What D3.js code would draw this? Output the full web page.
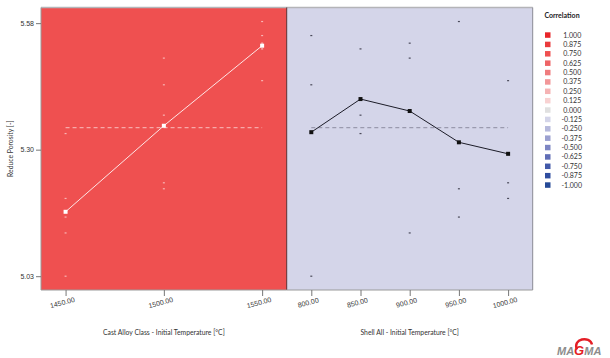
<!DOCTYPE html>
<html>
<head>
<meta charset="utf-8">
<script src="https://cdn.jsdelivr.net/npm/d3@7"></script>
<style>
  html, body { margin: 0; padding: 0; background: #fff; }
  svg { display: block; font-family: Lato, "Liberation Sans", sans-serif; }
</style>
</head>
<body>
<svg id="chart" width="610" height="358"></svg>
<script>
// Factor levels
const alloyLevels = [1450, 1500, 1550];
const shellLevels = [800, 850, 900, 950, 1000];

// Individual design runs: alloy temperature, shell temperature, porosity result
const runAlloy = [1550, 1550, 1550, 1550, 1550, 1500, 1500, 1500, 1500, 1500, 1450, 1450, 1450, 1450, 1450];
const runShell = [950, 800, 900, 850, 1000, 900, 800, 850, 1000, 950, 850, 1000, 950, 900, 800];
const runPorosity = [5.5835, 5.553, 5.5365, 5.524, 5.455, 5.504, 5.446, 5.380, 5.233, 5.220, 5.340, 5.199, 5.1585, 5.124, 5.030];

// Main-effect means per level
const alloyMeans = [5.170, 5.357, 5.531];
const shellMeans = [5.343, 5.415, 5.389, 5.321, 5.296];
const overallMean = 5.353;

// Axis ticks
const yTicks = [5.03, 5.305, 5.58];
const yTickLabels = ["5.03", "5.30", "5.58"];

// Correlation colour legend
const legendValues = [1, 0.875, 0.75, 0.625, 0.5, 0.375, 0.25, 0.125, 0, -0.125, -0.25, -0.375, -0.5, -0.625, -0.75, -0.875, -1];
const legendColors = ["#e8262a", "#ea3b3d", "#ef5050", "#ee6466", "#ef7c7e", "#f29799", "#f5b3b4", "#f8d2d2", "#e0e0e0",
                      "#d4d5e9", "#b6b9dc", "#9ba0d0", "#7d85c3", "#606db6", "#4259a9", "#2f4d9f", "#264a97"];

// Correlation of each factor with the response
const factorNames = ["Cast Alloy Class - Initial Temperature [°C]", "Shell All - Initial Temperature [°C]"];
const panelCorrelation = [0.75, -0.125];

const svg = d3.select("#chart");
const plotTop = 7.5, plotBottom = 290;
const panelX = [41, 286.7, 532.7];

const corrColor = d3.scaleLinear().domain(legendValues).range(legendColors);

const y = d3.scaleLinear().domain([5.0, 5.614]).range([plotBottom, plotTop]);

const xAlloy = d3.scaleLinear().domain([1437.5, 1562.5]).range([panelX[0], panelX[1]]);
const xShell = d3.scaleLinear().domain([775, 1025]).range([panelX[1], panelX[2]]);

// Panel backgrounds coloured by correlation
svg.append("rect").attr("x", panelX[0]).attr("y", plotTop).attr("width", panelX[1] - panelX[0]).attr("height", plotBottom - plotTop)
  .attr("fill", corrColor(panelCorrelation[0]));
svg.append("rect").attr("x", panelX[1]).attr("y", plotTop).attr("width", panelX[2] - panelX[1]).attr("height", plotBottom - plotTop)
  .attr("fill", corrColor(panelCorrelation[1]));

// Frame
svg.append("line").attr("x1", panelX[0]).attr("x2", panelX[2]).attr("y1", plotTop).attr("y2", plotTop)
  .attr("stroke", "#b4b4b8").attr("stroke-width", 1.5);
svg.append("line").attr("x1", panelX[2]).attr("x2", panelX[2]).attr("y1", plotTop).attr("y2", plotBottom)
  .attr("stroke", "#8a8a96").attr("stroke-width", 1);
svg.append("line").attr("x1", panelX[1]).attr("x2", panelX[1]).attr("y1", plotTop).attr("y2", plotBottom)
  .attr("stroke", "#5e2a2c").attr("stroke-width", 1);

// Y axis
const yAxis = d3.axisLeft(y).tickValues(yTicks).tickSize(5).tickPadding(2)
  .tickFormat((d, i) => yTickLabels[i]);
const gy = svg.append("g").attr("transform", `translate(${panelX[0]},0)`).call(yAxis);
gy.select(".domain").attr("stroke", "#9a9a9a").attr("d", `M0,${plotTop}V${plotBottom}`);
gy.selectAll(".tick line").attr("stroke", "#777");
gy.selectAll("text").attr("font-size", 7).attr("fill", "#333");

svg.append("text").attr("transform", `translate(13,${(plotTop + plotBottom) / 2}) rotate(-90)`)
  .attr("text-anchor", "middle").attr("font-size", 6.8).attr("fill", "#333")
  .text("Reduce Porosity [-]");

// X axes
function xAxisFor(scale, levels, x0, x1) {
  const g = svg.append("g").attr("transform", `translate(0,${plotBottom})`)
    .call(d3.axisBottom(scale).tickValues(levels).tickSize(6).tickFormat(d3.format(".2f")));
  g.select(".domain").attr("stroke", "#9a9a9a").attr("d", `M${x0},0H${x1}`);
  g.selectAll(".tick line").attr("stroke", "#777");
  g.selectAll(".tick text").attr("font-size", 7).attr("fill", "#333")
    .attr("text-anchor", "middle").attr("dy", 0)
    .attr("transform", "translate(-3,15) rotate(-15)").attr("y", 0);
}
xAxisFor(xAlloy, alloyLevels, panelX[0], panelX[1]);
xAxisFor(xShell, shellLevels, panelX[1], panelX[2]);

svg.append("text").attr("x", (xAlloy(alloyLevels[0]) + xAlloy(alloyLevels[2])) / 2).attr("y", 335)
  .attr("text-anchor", "middle").attr("font-size", 6.8).attr("fill", "#333").text(factorNames[0]);
svg.append("text").attr("x", xShell(900)).attr("y", 335)
  .attr("text-anchor", "middle").attr("font-size", 6.8).attr("fill", "#333").text(factorNames[1]);

// Individual run results
const runs = runAlloy.map((a, i) => ({ alloy: a, shell: runShell[i], value: runPorosity[i] }));
svg.append("g").selectAll("rect").data(runs).join("rect")
  .attr("x", d => xAlloy(d.alloy) - 1).attr("y", d => y(d.value) - 0.6)
  .attr("width", 2).attr("height", 1.2).attr("fill", "#f8b4b4");
svg.append("g").selectAll("rect").data(runs).join("rect")
  .attr("x", d => xShell(d.shell) - 1).attr("y", d => y(d.value) - 0.6)
  .attr("width", 2).attr("height", 1.2).attr("fill", "#4a4a5a");

// Overall mean reference lines
svg.append("line").attr("x1", xAlloy(alloyLevels[0])).attr("x2", xAlloy(alloyLevels[2]))
  .attr("y1", y(overallMean)).attr("y2", y(overallMean))
  .attr("stroke", "#f7a9a9").attr("stroke-width", 1.3).attr("stroke-dasharray", "4,3");
svg.append("line").attr("x1", xShell(shellLevels[0])).attr("x2", xShell(shellLevels[4]))
  .attr("y1", y(overallMean)).attr("y2", y(overallMean))
  .attr("stroke", "#9a9aae").attr("stroke-width", 1.3).attr("stroke-dasharray", "4,3");

// Main-effect lines
const alloyLine = d3.line().x((d, i) => xAlloy(alloyLevels[i])).y(d => y(d));
svg.append("path").datum(alloyMeans).attr("d", alloyLine)
  .attr("fill", "none").attr("stroke", "#fde6e6").attr("stroke-width", 1);
svg.append("g").selectAll("rect").data(alloyMeans).join("rect")
  .attr("x", (d, i) => xAlloy(alloyLevels[i]) - 2).attr("y", d => y(d) - 2)
  .attr("width", 4).attr("height", 4).attr("fill", "#ffffff");

const shellLine = d3.line().x((d, i) => xShell(shellLevels[i])).y(d => y(d));
svg.append("path").datum(shellMeans).attr("d", shellLine)
  .attr("fill", "none").attr("stroke", "#1c1c28").attr("stroke-width", 1);
svg.append("g").selectAll("rect").data(shellMeans).join("rect")
  .attr("x", (d, i) => xShell(shellLevels[i]) - 2).attr("y", d => y(d) - 2)
  .attr("width", 4).attr("height", 4).attr("fill", "#111");

// Legend
const lg = svg.append("g");
lg.append("text").attr("x", 562).attr("y", 18).attr("text-anchor", "middle")
  .attr("font-size", 7).attr("font-weight", "bold").attr("fill", "#222").text("Correlation");
const item = lg.selectAll("g.item").data(legendValues).join("g").attr("class", "item")
  .attr("transform", (d, i) => `translate(0,${35 + i * 9.375})`);
item.append("rect").attr("x", 545).attr("y", -2.7).attr("width", 5.5).attr("height", 5.5)
  .attr("fill", d => corrColor(d));
item.append("text").attr("x", d => d < 0 ? 561.5 : 563.3).attr("y", 2.5).attr("font-size", 7).attr("fill", "#333")
  .text(d => d3.format(".3f")(d).replace("−", "-"));

// Logo
const logo = svg.append("g").attr("transform", "translate(557,354.5)");
logo.append("path").attr("d", "M20,-5 C15,-16 33,-19 35,-10")
  .attr("fill", "none").attr("stroke", "#e41e26").attr("stroke-width", 2.4);
logo.append("text").attr("font-weight", "bold").attr("font-style", "italic")
  .attr("font-family", "'Liberation Sans', Arial, sans-serif")
  .selectAll("tspan").data([["MA", "#8c8c8c", 11], ["G", "#e41e26", 13], ["MA", "#8c8c8c", 11]]).join("tspan")
  .attr("font-size", d => d[2]).attr("fill", d => d[1]).text(d => d[0]);
</script>
</body>
</html>
